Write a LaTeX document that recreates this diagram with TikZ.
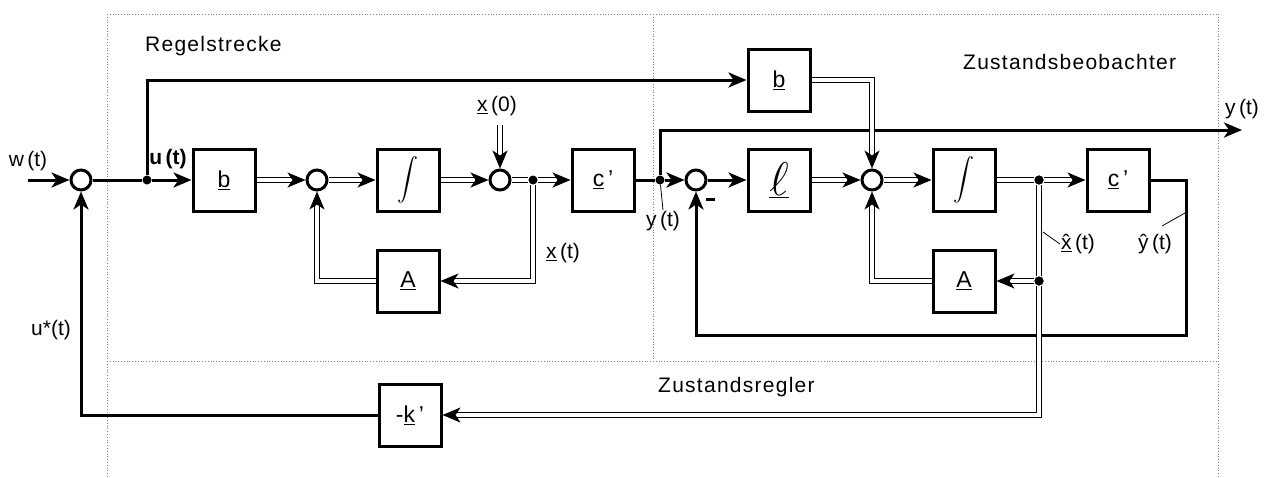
\documentclass[tikz,border=0pt]{standalone}
\usepackage{fontspec}
\usepackage{graphicx}
\setmainfont{Liberation Sans}
\newfontfamily\spacedfont[LetterSpace=6]{Liberation Sans}
\usetikzlibrary{arrows.meta}
\begin{document}
\begin{tikzpicture}[x=1pt,y=-1pt,
  blk/.style={draw, line width=3pt, minimum width=62pt, minimum height=62pt, inner sep=0pt, font=\fontsize{23}{25}\selectfont},
  sumc/.style={draw, circle, line width=3pt, minimum size=20pt, inner sep=0pt},
  jdot/.style={fill, circle, minimum size=9pt, inner sep=0pt},
  sig/.style={line width=3pt},
  dbl/.style={double, line width=1pt, double distance=3.5pt},
  tip/.style={-{Stealth[length=18pt,width=15pt,inset=5pt]}},
  lbl/.style={font=\fontsize{21}{23}\selectfont, inner sep=1pt},
  ttl/.style={font=\spacedfont\fontsize{21}{24}\selectfont, inner sep=0pt},
  frame/.style={gray, dotted, line width=0.8pt},
  lead/.style={line width=0.8pt}
]
\useasboundingbox (0,0) rectangle (1266,477);
% frames
\draw[frame] (107,14) -- (1218,14);
\draw[frame] (107,14) -- (107,477);
\draw[frame] (1218,14) -- (1218,477);
\draw[frame] (653,14) -- (653,361);
\draw[frame] (107,361) -- (1218,361);
% titles
\node[ttl, anchor=west] (t1) at (145,46) {Regelstrecke};
\node[ttl, anchor=west] (t2) at (963,62) {Zustandsbeobachter};
\node[ttl, anchor=west] (t3) at (658,387) {Zustandsregler};
% nodes
\node[sumc] (s1) at (81,180) {};
\node[jdot] (j1) at (147,180) {};
\node[blk] (b1) at (224,180) {\underline{b}};
\node[sumc] (s2) at (317,180) {};
\node[blk] (int1) at (408,180) {\scalebox{2.1}{$\displaystyle\int$}};
\node[sumc] (s3) at (500,180) {};
\node[jdot] (j2) at (533,180) {};
\node[blk] (c1) at (603,180) {\underline{c}\,'};
\node[jdot] (j3) at (660,180) {};
\node[sumc] (s4) at (696,180) {};
\node[blk] (lb) at (779,180) {\underline{\scalebox{1.9}{$\ell$}}};
\node[blk] (b2) at (779,80) {\underline{b}};
\node[sumc] (s5) at (872,180) {};
\node[blk] (int2) at (964,180) {\scalebox{2.1}{$\displaystyle\int$}};
\node[jdot] (j4) at (1039,180) {};
\node[blk] (c2) at (1118,180) {\underline{c}\,'};
\node[blk] (A1) at (408,281) {\underline{A}};
\node[blk] (A2) at (964,281) {\underline{A}};
\node[jdot] (j5) at (1039,281) {};
\node[blk] (kb) at (410,415) {-\underline{k}\,'};
\coordinate (win) at (28,180);
\coordinate (x0) at (500,125);
\coordinate (yout) at (1242,130);
\coordinate (fbB) at (1186,335);
% labels
\node[lbl] (lw) at (28,161) {w\,(t)};
\node[lbl, font=\fontsize{21}{23}\selectfont\bfseries] (lu) at (168,159) {u\,(t)};
\node[lbl] (lx0) at (497,106) {\underline{x}\,(0)};
\node[lbl] (lx) at (563,253) {\underline{x}\,(t)};
\node[lbl] (ly1) at (663,221) {y\,(t)};
\node[lbl] (ly2) at (1242,109) {y\,(t)};
\node[lbl] (lxh) at (1078,244) {\underline{\^{x}}\,(t)};
\node[lbl] (lyh) at (1155,244) {\^{y}\,(t)};
\node[lbl] (lus) at (51,330) {u*(t)};
\node[inner sep=0pt] (mn) at (710,199) {\rule{9pt}{3pt}};
% connectors
\draw[sig, tip] (win) -- (s1.west);
\draw[sig] (s1.east) -- (j1);
\draw[sig, tip] (j1) -- (b1.west);
\draw[sig, tip] (j1) |- (b2.west);
\draw[dbl, tip] (b1.east) -- (s2.west);
\draw[dbl, tip] (s2.east) -- (int1.west);
\draw[dbl, tip] (int1.east) -- (s3.west);
\draw[dbl, tip] (x0) -- (s3.north);
\draw[dbl] (s3.east) -- (j2);
\draw[dbl, tip] (j2) -- (c1.west);
\draw[dbl, tip] (j2) |- (A1.east);
\draw[dbl, tip] (A1.west) -| (s2.south);
\draw[sig] (c1.east) -- (j3);
\draw[sig, tip] (j3) -- (s4.west);
\draw[sig, tip] (j3) |- (yout);
\draw[sig, tip] (s4.east) -- (lb.west);
\draw[dbl, tip] (lb.east) -- (s5.west);
\draw[dbl, tip] (b2.east) -| (s5.north);
\draw[dbl, tip] (s5.east) -- (int2.west);
\draw[dbl] (int2.east) -- (j4);
\draw[dbl, tip] (j4) -- (c2.west);
\draw[sig, tip] (c2.east) -| (fbB) -| (s4.south);
\draw[dbl] (j4) -- (j5);
\draw[dbl, tip] (j5) -- (A2.east);
\draw[dbl, tip] (A2.west) -| (s5.south);
\draw[dbl, tip] (j5) |- (kb.east);
\draw[sig, tip] (kb.west) -| (s1.south);
\node[jdot] at (j4) {};
\node[jdot] at (j5) {};
% leaders
\draw[lead] (j3) -- (ly1.north);
\coordinate (xl) at (1043,232);
\draw[lead] (xl) -- (lxh.west);
\coordinate (yl1) at (1185,213);
\coordinate (yl2) at (1162,226);
\draw[lead] (yl1) -- (yl2);
\end{tikzpicture}
\end{document}
